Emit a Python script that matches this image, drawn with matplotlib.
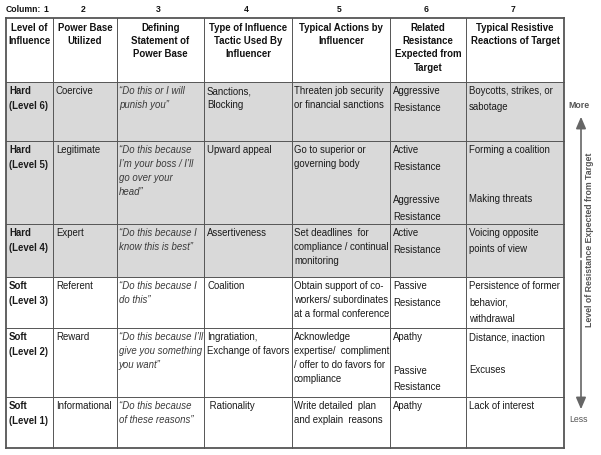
import matplotlib
matplotlib.use("Agg")
import matplotlib.pyplot as plt

# table content
col_numbers = ["1", "2", "3", "4", "5", "6", "7"]
headers = [
    "Level of\nInfluence",
    "Power Base\nUtilized",
    "Defining\nStatement of\nPower Base",
    "Type of Influence\nTactic Used By\nInfluencer",
    "Typical Actions by\nInfluencer",
    "Related\nResistance\nExpected from\nTarget",
    "Typical Resistive\nReactions of Target",
]
levels = ["Hard\n(Level 6)", "Hard\n(Level 5)", "Hard\n(Level 4)",
          "Soft\n(Level 3)", "Soft\n(Level 2)", "Soft\n(Level 1)"]
power_bases = ["Coercive", "Legitimate", "Expert", "Referent", "Reward", "Informational"]
statements = [
    "\u201cDo this or I will\npunish you\u201d",
    "\u201cDo this because\nI\u2019m your boss / I\u2019ll\ngo over your\nhead\u201d",
    "\u201cDo this because I\nknow this is best\u201d",
    "\u201cDo this because I\ndo this\u201d",
    "\u201cDo this because I\u2019ll\ngive you something\nyou want\u201d",
    "\u201cDo this because\nof these reasons\u201d",
]
tactics = ["Sanctions,\nBlocking", "Upward appeal", "Assertiveness", "Coalition",
           "Ingratiation,\nExchange of favors", " Rationality"]
actions = [
    "Threaten job security\nor financial sanctions",
    "Go to superior or\ngoverning body",
    "Set deadlines  for\ncompliance / continual\nmonitoring",
    "Obtain support of co-\nworkers/ subordinates\nat a formal conference",
    "Acknowledge\nexpertise/  compliment\n/ offer to do favors for\ncompliance",
    "Write detailed  plan\nand explain  reasons",
]
resistance = [
    "Aggressive\nResistance",
    "Active\nResistance\n\nAggressive\nResistance",
    "Active\nResistance",
    "Passive\nResistance",
    "Apathy\n\nPassive\nResistance",
    "Apathy",
]
reactions = [
    "Boycotts, strikes, or\nsabotage",
    "Forming a coalition\n\n\nMaking threats",
    "Voicing opposite\npoints of view",
    "Persistence of former\nbehavior,\nwithdrawal",
    "Distance, inaction\n\nExcuses",
    "Lack of interest",
]
hard_rows = [True, True, True, False, False, False]

# layout in pixels
col_edges = [6, 53, 117, 204, 292, 390, 466, 564]
row_edges = [18, 82, 141, 224, 277, 328, 397, 448]
body_spacing = [1.6, 1.5, 1.5, 1.55, 1.5, 1.85, 1.8]

font = ["Liberation Sans", "DejaVu Sans"]
body_fs = 6.9

fig = plt.figure(figsize=(6.01, 4.55), dpi=100)
ax = fig.add_axes([0, 0, 1, 1])
ax.set_xlim(0, 601)
ax.set_ylim(455, 0)
ax.axis("off")

# shading of hard rows
for i, hard in enumerate(hard_rows):
    if hard:
        ax.fill_between([col_edges[0], col_edges[-1]], row_edges[i + 1], row_edges[i + 2],
                        color="#d9d9d9", lw=0, zorder=0)

# grid lines
for y in row_edges:
    lw = 1.3 if y in (row_edges[0], row_edges[-1]) else 0.7
    ax.plot([col_edges[0], col_edges[-1]], [y, y], color="#555555", lw=lw, zorder=2)
for x in col_edges:
    lw = 1.3 if x in (col_edges[0], col_edges[-1]) else 0.7
    ax.plot([x, x], [row_edges[0], row_edges[-1]], color="#555555", lw=lw, zorder=2)

# column numbers
ax.text(6, 9, "Column:", fontsize=6.2, fontweight="bold", family=font,
        ha="left", va="center", color="#111111")
for j, num in enumerate(col_numbers):
    cx = 46 if j == 0 else (col_edges[j] + col_edges[j + 1]) / 2 - 2
    ax.text(cx, 9, num, fontsize=6.2, fontweight="bold", family=font,
            ha="center", va="center", color="#111111")

# headers
for j, h in enumerate(headers):
    cx = (col_edges[j] + col_edges[j + 1]) / 2
    ax.text(cx, row_edges[0] + 5, h, fontsize=6.9, fontweight="bold", family=font,
            ha="center", va="top", linespacing=1.4, color="#111111")

# body cells
columns = [levels, power_bases, statements, tactics, actions, resistance, reactions]
for j, col in enumerate(columns):
    for i, txt in enumerate(col):
        x = col_edges[j] + 3
        y = row_edges[i + 1] + 4
        kw = dict(fontsize=body_fs, family=font, ha="left", va="top",
                  linespacing=body_spacing[j], color="#1a1a1a")
        if j == 0:
            kw["fontweight"] = "bold"
        if j == 2:
            kw["style"] = "italic"
            kw["color"] = "#3a3a3a"
            x = col_edges[j] + 2
        if j == 4:
            x = col_edges[j] + 2
        ax.text(x, y, txt, **kw)

# resistance arrow on the right
ax.annotate("", xy=(581, 114), xytext=(581, 260),
            arrowprops=dict(arrowstyle="-|>,head_length=0.7,head_width=0.3",
                            color="#666666", lw=1.2))
ax.annotate("", xy=(581, 412), xytext=(581, 258),
            arrowprops=dict(arrowstyle="-|>,head_length=0.7,head_width=0.3",
                            color="#666666", lw=1.2))
ax.text(579, 105, "More", fontsize=6.3, fontweight="bold", family=font,
        ha="center", va="center", color="#555555")
ax.text(579, 419, "Less", fontsize=6.3, family=font,
        ha="center", va="center", color="#555555")
ax.text(589, 240, "Level of Resistance Expected from Target", fontsize=6.3,
        fontweight="bold", family=font, rotation=90,
        ha="center", va="center", color="#555555")

fig.savefig("out.png", dpi=100)
